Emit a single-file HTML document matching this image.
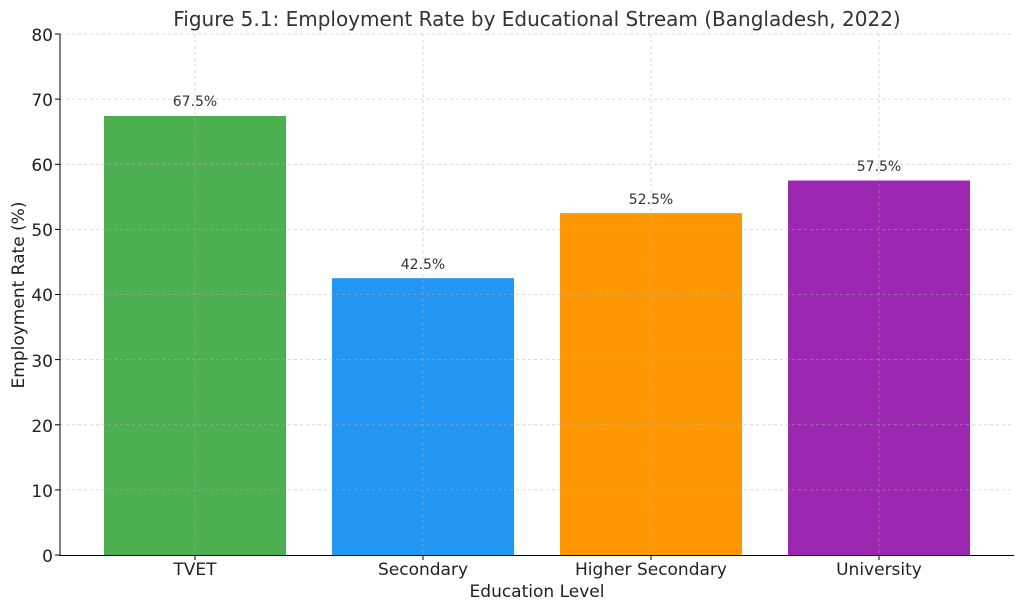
<!DOCTYPE html>
<html><head><meta charset="utf-8"><style>
html,body{margin:0;padding:0;background:#fff}
svg{display:block;font-family:"DejaVu Sans","Liberation Sans",sans-serif}
</style></head><body>
<svg width="1024" height="611" viewBox="0 0 1024 611" xmlns="http://www.w3.org/2000/svg">
<rect width="1024" height="611" fill="#fff"/>
<text x="537" y="26" text-anchor="middle" font-size="20" fill="#333">Figure 5.1: Employment Rate by Educational Stream (Bangladesh, 2022)</text>
<rect x="104" y="116" width="182" height="439" fill="#4caf50"/>
<rect x="332" y="278.2" width="182" height="276.8" fill="#2196f3"/>
<rect x="560" y="213.1" width="182" height="341.9" fill="#ff9800"/>
<rect x="788" y="180.5" width="182" height="374.5" fill="#9c27b0"/>
<g stroke="#b0b0b0" stroke-opacity="0.6" stroke-width="0.8" stroke-dasharray="3,3">
<line x1="60" x2="1014" y1="34" y2="34"/>
<line x1="60" x2="1014" y1="99.1" y2="99.1"/>
<line x1="60" x2="1014" y1="164.3" y2="164.3"/>
<line x1="60" x2="1014" y1="229.4" y2="229.4"/>
<line x1="60" x2="1014" y1="294.5" y2="294.5"/>
<line x1="60" x2="1014" y1="359.6" y2="359.6"/>
<line x1="60" x2="1014" y1="424.8" y2="424.8"/>
<line x1="60" x2="1014" y1="489.9" y2="489.9"/>
<line x1="195" x2="195" y1="34" y2="555"/>
<line x1="423" x2="423" y1="34" y2="555"/>
<line x1="651" x2="651" y1="34" y2="555"/>
<line x1="879" x2="879" y1="34" y2="555"/>
</g>
<line x1="60" x2="60" y1="34" y2="555.5" stroke="#000" stroke-width="1"/>
<line x1="59.5" x2="1014" y1="555.5" y2="555.5" stroke="#000" stroke-width="1"/>
<g stroke="#000">
<line x1="55" x2="60" y1="555" y2="555"/><line x1="55" x2="60" y1="489.9" y2="489.9"/>
<line x1="55" x2="60" y1="424.8" y2="424.8"/><line x1="55" x2="60" y1="359.6" y2="359.6"/>
<line x1="55" x2="60" y1="294.5" y2="294.5"/><line x1="55" x2="60" y1="229.4" y2="229.4"/>
<line x1="55" x2="60" y1="164.3" y2="164.3"/><line x1="55" x2="60" y1="99.1" y2="99.1"/>
<line x1="55" x2="60" y1="34" y2="34"/>
<line x1="195" x2="195" y1="555" y2="560"/><line x1="423" x2="423" y1="555" y2="560"/>
<line x1="651" x2="651" y1="555" y2="560"/><line x1="879" x2="879" y1="555" y2="560"/>
</g>
<g font-size="17" fill="#222" text-anchor="end">
<text x="53" y="562">0</text><text x="53" y="497">10</text><text x="53" y="432">20</text>
<text x="53" y="367">30</text><text x="53" y="301">40</text><text x="53" y="236">50</text>
<text x="53" y="171">60</text><text x="53" y="106">70</text><text x="53" y="41">80</text>
</g>
<g font-size="17" fill="#222" text-anchor="middle">
<text x="195" y="575">TVET</text><text x="423" y="575">Secondary</text>
<text x="651" y="575">Higher Secondary</text><text x="879" y="575">University</text>
<text x="537" y="597">Education Level</text>
<text transform="translate(24,295) rotate(-90)">Employment Rate (%)</text>
</g>
<g font-size="14" fill="#333" text-anchor="middle">
<text x="195" y="106">67.5%</text><text x="423" y="269">42.5%</text>
<text x="651" y="204">52.5%</text><text x="879" y="171">57.5%</text>
</g>
</svg>
</body></html>
